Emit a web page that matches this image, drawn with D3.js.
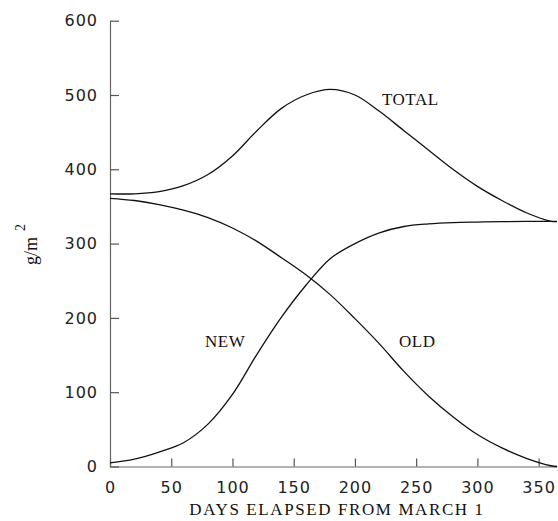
<!DOCTYPE html>
<html>
<head>
<meta charset="utf-8">
<script src="https://cdn.jsdelivr.net/npm/d3@7"></script>
<style>
  body { margin: 0; background: #fff; }
  svg { display: block; }
</style>
</head>
<body>
<div id="chart"></div>
<script>
// days since March 1, biomass in g/m2
var days  = [0, 20, 40, 60, 80, 100, 120, 140, 160, 180, 200, 220, 240, 260, 280, 300, 320, 340, 360, 365]
var total = [367, 367, 370, 378, 393, 418, 452, 482, 500, 507.5, 500, 478, 452, 426, 400, 377, 358, 341.5, 330, 329.5]
var newer = [5, 10, 19.5, 32, 57, 97, 151, 201, 244, 280, 300, 314.5, 323, 326.5, 328.3, 329, 329.5, 330, 330, 330]
var older = [361, 358, 352.5, 345, 335, 321, 303, 281, 258, 231, 199, 165, 128, 95, 67, 43, 25, 11, 1, 0]

var xTicks = [0, 50, 100, 150, 200, 250, 300, 350]
var yTicks = [0, 100, 200, 300, 400, 500, 600]

var series = [
  {name: "TOTAL", values: total, lx: 382, ly: 105},
  {name: "NEW",   values: newer, lx: 205, ly: 347},
  {name: "OLD",   values: older, lx: 399, ly: 347}
]

var width = 558, height = 521

var svg = d3.select("#chart").append("svg")
  .attr("width", width)
  .attr("height", height)

var x = d3.scaleLinear().domain([0, 365]).range([110, 557])
var y = d3.scaleLinear().domain([0, 600]).range([466.5, 20.7])

var tickFont = "'DejaVu Sans', sans-serif"
var serif = "'Liberation Serif', 'DejaVu Serif', serif"

// axes, ticks point inward
var xAxis = svg.append("g")
  .attr("transform", "translate(0," + y(0) + ")")
  .call(d3.axisBottom(x).tickValues(xTicks).tickSizeInner(-8).tickSizeOuter(0).tickPadding(15))

var yAxis = svg.append("g")
  .attr("transform", "translate(" + x(0) + ",0)")
  .call(d3.axisLeft(y).tickValues(yTicks).tickSizeInner(-9).tickSizeOuter(0).tickPadding(12))

;[xAxis, yAxis].forEach(function(a){
  a.select(".domain").attr("stroke", "#666").attr("stroke-width", 1.2)
  a.selectAll(".tick line").attr("stroke", "#555").attr("stroke-width", 1.2)
  a.selectAll(".tick text")
    .attr("fill", "#222")
    .style("font-family", tickFont)
    .style("font-size", "16px")
    .style("letter-spacing", "1px")
})

// curves
var line = d3.line()
  .x(function(d){ return x(d[0]) })
  .y(function(d){ return y(d[1]) })
  .curve(d3.curveCatmullRom.alpha(0.5))

series.forEach(function(s){
  var pts = days.map(function(d, i){ return [d, s.values[i]] })
  svg.append("path")
    .datum(pts)
    .attr("d", line)
    .attr("fill", "none")
    .attr("stroke", "#111")
    .attr("stroke-width", 1.3)

  svg.append("text")
    .attr("x", s.lx)
    .attr("y", s.ly)
    .attr("fill", "#111")
    .style("font-family", serif)
    .style("font-size", "17px")
    .style("letter-spacing", "0.5px")
    .text(s.name)
})

// axis titles
svg.append("text")
  .attr("x", 337)
  .attr("y", 515)
  .attr("text-anchor", "middle")
  .attr("fill", "#111")
  .style("font-family", serif)
  .style("font-size", "17px")
  .style("letter-spacing", "1.6px")
  .text("DAYS ELAPSED FROM MARCH 1")

var yl = svg.append("text")
  .attr("transform", "translate(37,265) rotate(-90)")
  .attr("fill", "#111")
  .style("font-family", serif)
  .style("font-size", "18px")
yl.append("tspan").text("g/m")
yl.append("tspan").attr("dx", 6).attr("dy", -12).style("font-size", "14px").text("2")
</script>
</body>
</html>
